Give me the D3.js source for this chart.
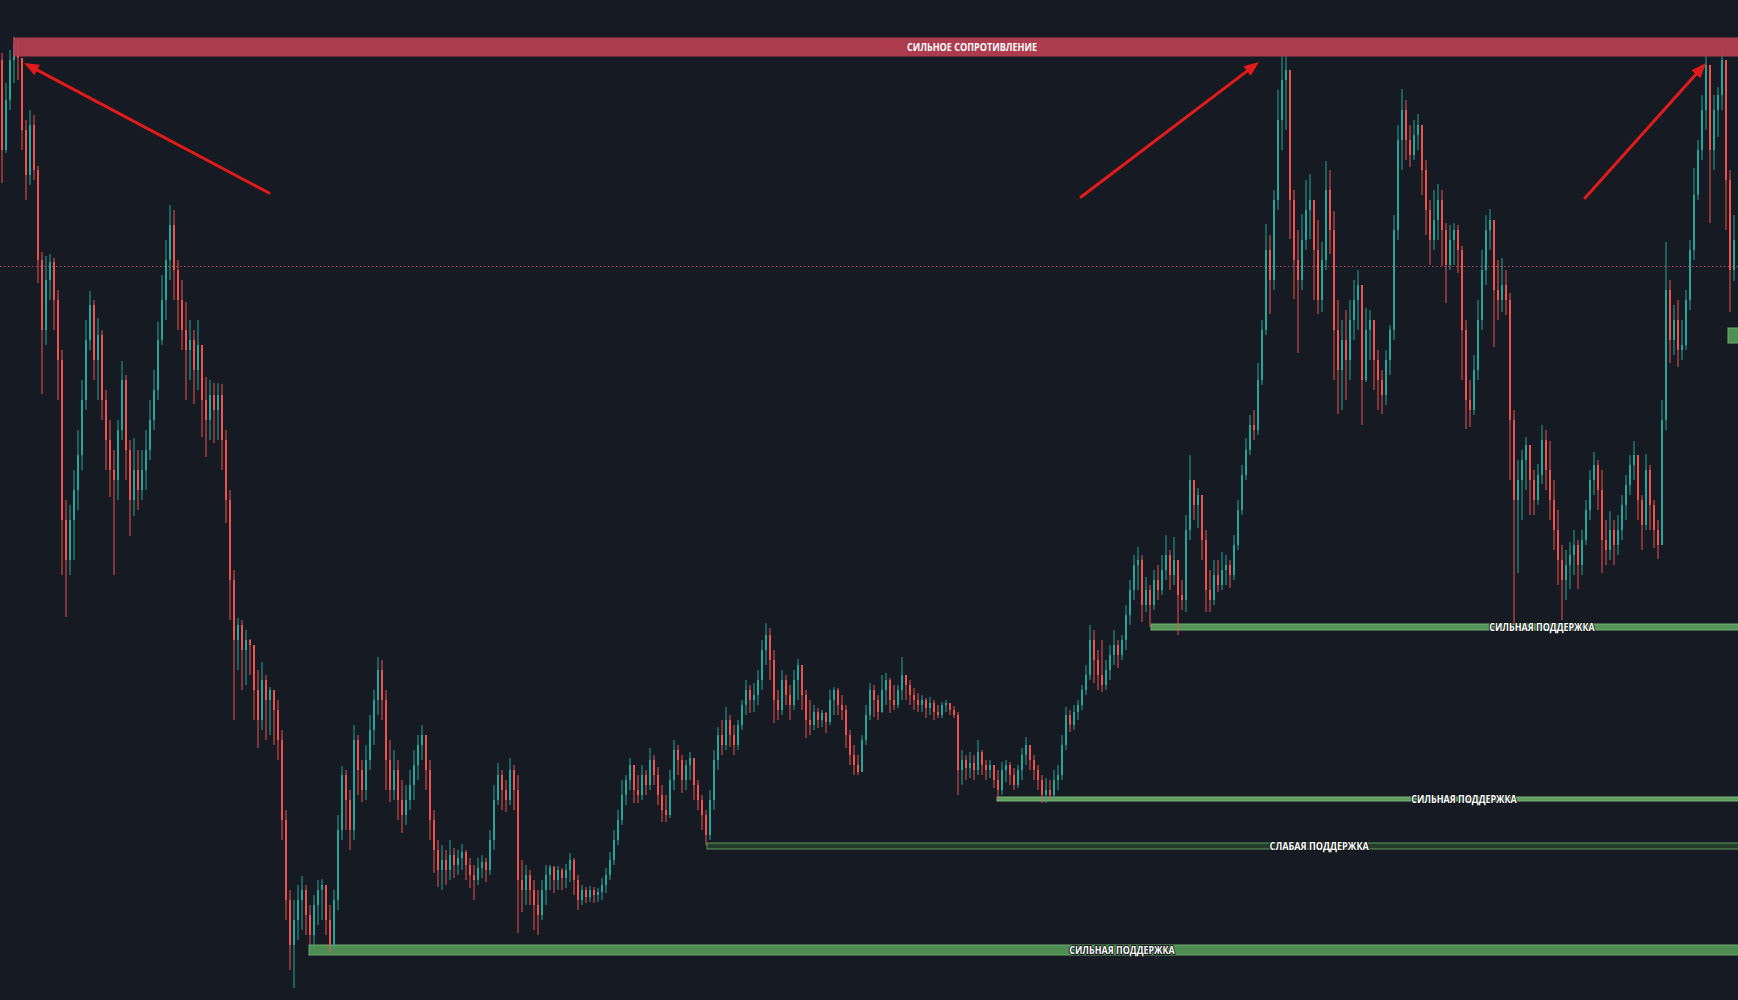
<!DOCTYPE html>
<html><head><meta charset="utf-8">
<script src="https://cdn.jsdelivr.net/npm/d3@7"></script>
<style>html,body{margin:0;padding:0;background:#161a23;overflow:hidden}</style>
</head><body>
<svg id="chart" width="1738" height="1000"></svg>
<script>
// ---- data (price units) ----
const firstOpen = 940;
const closes = [
850,900,940,955,942,870,825,875,830,740,
670,720,738,700,640,480,440,480,510,545,
600,660,695,640,665,600,560,530,520,570,
620,550,500,530,510,530,550,580,610,660,
700,740,775,730,700,670,650,660,630,655,
600,580,605,590,605,560,500,420,360,375,
350,360,355,310,280,320,300,310,290,260,
180,100,55,80,100,110,85,65,95,110,
115,80,55,100,170,225,200,170,260,230,
210,240,270,300,330,300,240,210,230,200,
185,200,215,235,255,265,230,180,150,130,
140,130,145,135,142,148,135,125,120,132,
138,130,160,200,225,210,200,230,210,120,
110,125,110,95,85,110,125,133,120,130,
122,130,140,120,100,110,103,110,105,108,
115,125,140,160,180,205,220,235,210,205,
225,215,240,225,205,190,185,220,250,240,
220,235,242,215,200,185,165,200,240,265,
255,280,265,255,275,295,310,300,305,320,
350,365,340,300,290,320,305,295,320,335,
305,280,275,288,280,287,278,300,310,295,
290,265,245,235,228,260,285,310,300,288,
310,320,300,295,310,325,315,305,300,295,
300,292,297,288,285,295,297,290,285,230,
240,232,237,230,248,235,230,235,220,210,
230,235,225,215,230,245,255,240,230,220,
205,210,205,220,225,255,285,275,288,295,
310,325,360,340,325,315,330,345,355,345,
360,385,410,435,440,395,410,395,420,410,
430,445,425,440,405,400,470,520,495,505,
460,410,400,425,415,430,435,425,455,490,
525,550,575,570,620,670,750,720,800,880,
920,930,800,740,720,760,790,800,750,700,
740,810,770,670,630,660,640,680,700,715,
620,670,680,640,620,605,640,670,770,860,
890,860,845,865,875,830,790,760,780,800,
770,735,760,770,750,670,600,590,630,680,
730,770,780,710,700,715,700,580,500,520,
540,555,520,500,525,560,530,500,470,440,
420,435,445,455,435,460,490,520,535,510,
460,450,470,455,470,495,515,535,545,500,
475,530,495,470,455,580,710,660,680,650,
655,700,750,805,850,890,935,850,890,905,
940,820,730,760];
const highs = [
947,917,950,963,962,937,880,890,885,834,
748,744,746,742,710,650,500,495,530,570,
620,680,709,700,682,670,610,580,550,580,
639,625,560,562,550,550,570,600,630,678,
725,760,795,790,740,720,698,680,670,680,
650,623,620,617,617,616,570,510,430,382,
380,370,361,350,330,338,325,313,310,300,
270,190,110,100,115,124,115,95,105,120,
121,115,95,110,185,234,230,210,275,265,
240,255,285,310,343,340,310,260,250,240,
220,215,230,250,265,275,260,240,190,160,
155,150,160,152,150,156,150,142,135,142,
145,142,170,215,237,230,220,242,235,225,
140,135,130,120,110,120,135,135,134,134,
132,136,147,142,125,115,113,114,113,112,
122,132,148,170,190,220,225,242,233,225,
235,230,252,245,233,215,205,230,260,255,
245,240,248,240,220,205,190,210,250,273,
280,293,285,275,280,300,320,315,317,330,
360,377,372,350,310,330,325,315,330,341,
330,310,300,295,292,290,288,310,313,312,
305,295,270,255,245,265,295,317,315,305,
325,327,322,315,315,343,323,320,312,307,
305,302,303,300,295,298,300,297,294,288,
250,245,248,245,260,250,240,240,235,230,
238,240,238,232,235,252,263,255,245,235,
225,222,220,230,235,265,293,290,295,300,
315,335,375,370,350,360,340,355,370,360,
365,395,420,445,453,445,423,415,430,435,
445,465,450,463,440,420,485,545,515,512,
500,470,430,440,440,448,445,440,465,500,
535,562,585,590,637,680,776,765,810,910,
945,945,910,810,770,786,820,826,800,780,
758,839,830,789,700,680,690,700,720,730,
710,692,690,670,650,630,650,675,785,875,
911,900,875,880,886,870,840,800,810,816,
810,777,775,777,775,754,680,620,645,700,
750,785,791,775,740,742,730,707,590,540,
550,563,550,530,536,575,570,559,520,490,
455,450,458,470,460,470,500,530,548,540,
530,480,489,480,485,505,525,545,559,540,
505,546,535,500,480,600,758,720,695,700,
680,710,760,832,860,905,944,921,905,913,
950,930,830,785];
const lows = [
817,847,890,917,920,850,800,815,820,717,
606,655,700,670,600,425,383,425,440,490,
530,590,650,620,600,580,530,503,425,500,
560,520,464,484,490,500,510,540,570,600,
655,680,720,700,670,650,600,620,596,610,
563,543,560,557,560,530,477,380,280,330,
310,315,325,280,252,270,260,265,255,240,
160,80,30,12,60,70,65,55,52,75,
80,65,47,50,90,160,170,150,160,205,
198,200,230,255,285,280,210,198,200,180,
167,175,190,200,220,240,210,160,127,113,
110,115,120,122,125,130,120,112,100,115,
122,118,125,150,195,190,188,195,190,67,
88,95,95,70,65,80,95,110,107,110,
110,112,118,105,90,95,97,98,97,98,
100,107,120,135,155,175,195,210,197,197,
200,205,210,215,195,178,178,182,210,225,
207,210,220,200,190,170,155,160,190,230,
245,250,253,245,250,270,285,287,288,295,
310,335,320,277,280,285,295,280,290,300,
290,262,265,270,272,273,267,275,285,285,
280,252,235,225,225,230,255,280,283,280,
287,295,287,290,292,300,300,295,290,288,
288,282,285,280,282,282,288,285,282,205,
215,220,222,220,225,225,220,222,212,201,
205,218,215,210,212,220,235,230,220,210,
197,197,200,202,210,220,250,268,270,280,
290,305,320,317,310,308,310,320,335,332,
340,350,375,400,410,378,388,373,390,400,
405,420,410,415,365,390,388,460,480,472,
440,388,388,395,408,410,415,412,420,450,
485,520,545,560,565,615,665,686,710,790,
850,870,761,701,647,710,750,761,700,686,
688,730,746,620,586,590,600,620,660,670,
575,618,640,610,590,586,595,625,660,760,
830,840,833,840,850,805,765,735,750,760,
734,697,730,735,727,620,571,573,585,620,
670,715,750,653,680,688,685,520,376,427,
480,510,485,485,495,516,510,480,450,415,
380,400,411,425,411,425,455,480,505,490,
427,435,440,435,445,460,480,505,520,480,
450,470,470,452,441,455,570,637,645,633,
640,650,690,740,800,840,870,777,830,863,
890,770,688,719];

// horizontal zones: label, price bottom, price top, first candle index, label centre (candle index)
const levelNames   = ["СИЛЬНОЕ СОПРОТИВЛЕНИЕ", "СИЛЬНАЯ ПОДДЕРЖКА", "СЛАБАЯ ПОДДЕРЖКА", "СИЛЬНАЯ ПОДДЕРЖКА", "СИЛЬНАЯ ПОДДЕРЖКА", ""];
const levelKinds   = ["resist", "strong", "weak", "strong3", "strong4", "box"];
const levelLow     = [943.5, 45, 151, 199, 370, 657];
const levelHigh    = [962.5, 55, 157, 203, 376, 672];
const levelStart   = [2.8, 76.75, 176.25, 248.75, 287.25, 431.5];
const levelLabelAt = [242.5, 280, 329.3, 365.5, 385, null];
const dottedLevel = 734;
// arrows: [candle index, price] of tail and tip
const arrowFrom = [[66.75, 807], [269.75, 803], [395.75, 802]];
const arrowTo   = [[5.5, 937], [314.25, 938], [426, 937]];

// ---- drawing ----
const W = 1738, H = 1000;
const N = closes.length;
const svg = d3.select("#chart");
const x = d3.scaleLinear().domain([-0.5, N - 0.5]).range([0, N * 4]);
const y = d3.scaleLinear().domain([0, 1000]).range([H, 0]);

svg.append("rect").attr("width", W).attr("height", H).attr("fill", "#161a23");

const candles = closes.map((c, i) => {
  const o = i === 0 ? firstOpen : closes[i - 1];
  return {i, o, c, h: Math.max(highs[i], o, c), l: Math.min(lows[i], o, c)};
});
const UP = "#26a69a", DOWN = "#ef5350";

// dotted level
svg.append("line").attr("x1", 0).attr("x2", W)
  .attr("y1", Math.round(y(dottedLevel)) + 0.5).attr("y2", Math.round(y(dottedLevel)) + 0.5)
  .attr("stroke", "#c9506a").attr("stroke-width", 1).attr("stroke-dasharray", "1.5,2.5").attr("opacity", 0.85);

// support zones (drawn under candles)
const zoneStyle = {
  resist:  {fill: "#b23e4e", stroke: "#c04a5a"},
  strong:  {fill: "#4e8c52", stroke: "#6aa86b"},
  weak:    {fill: "#243d2a", stroke: "#5d9a60"},
  strong3: {fill: "#5e9e60", stroke: "#76b476"},
  strong4: {fill: "#56955a", stroke: "#74b074"},
  box:     {fill: "#4f9052", stroke: "#6fae70"}
};
const zones = levelNames.map((n, k) => ({n, kind: levelKinds[k], lo: levelLow[k], hi: levelHigh[k], s: levelStart[k], at: levelLabelAt[k]}));

const zg = svg.append("g");
zones.filter(z => z.kind !== "resist").forEach(z => {
  const st = zoneStyle[z.kind];
  zg.append("rect").attr("x", x(z.s)).attr("y", y(z.hi))
    .attr("width", W - x(z.s) + 2).attr("height", y(z.lo) - y(z.hi))
    .attr("fill", st.fill).attr("stroke", st.stroke).attr("stroke-width", 1);
});

// candles
const cg = svg.append("g");
cg.selectAll("line.w").data(candles).join("line")
  .attr("x1", d => x(d.i)).attr("x2", d => x(d.i))
  .attr("y1", d => y(d.h)).attr("y2", d => y(d.l))
  .attr("stroke", d => d.c >= d.o ? UP : DOWN).attr("stroke-width", 1);
cg.selectAll("rect.b").data(candles).join("rect")
  .attr("x", d => x(d.i) - 1).attr("width", 2)
  .attr("y", d => y(Math.max(d.o, d.c)))
  .attr("height", d => Math.max(1, Math.abs(y(d.o) - y(d.c))))
  .attr("fill", d => d.c >= d.o ? UP : DOWN);

// resistance zone (over candles)
zones.filter(z => z.kind === "resist").forEach(z => {
  const st = zoneStyle[z.kind];
  svg.append("rect").attr("x", x(z.s)).attr("y", y(z.hi))
    .attr("width", W - x(z.s) + 2).attr("height", y(z.lo) - y(z.hi))
    .attr("fill", st.fill).attr("opacity", 0.97);
});

// labels
const lg = svg.append("g").attr("font-family", "'Open Sans', 'DejaVu Sans', sans-serif")
  .attr("font-weight", 700).attr("font-size", 10).attr("fill", "#ffffff").attr("text-anchor", "middle");
zones.filter(z => z.n).forEach(z => {
  const t = lg.append("text").attr("x", x(z.at)).attr("y", (y(z.hi) + y(z.lo)) / 2)
    .attr("dy", "0.36em").text(z.n)
    .attr("textLength", z.n.length * 6.2).attr("lengthAdjust", "spacingAndGlyphs");
  if (z.kind !== "resist") {
    t.attr("stroke", "#111418").attr("stroke-width", 2).attr("paint-order", "stroke").attr("stroke-linejoin", "round");
  }
});

// arrows
const ag = svg.append("g");
arrowFrom.forEach((f, k) => {
  const t = arrowTo[k];
  const x1 = x(f[0]), y1 = y(f[1]), x2 = x(t[0]), y2 = y(t[1]);
  const ang = Math.atan2(y2 - y1, x2 - x1);
  const L = 15, Wd = 6;
  const bx = x2 - L * Math.cos(ang), by = y2 - L * Math.sin(ang);
  ag.append("line").attr("x1", x1).attr("y1", y1).attr("x2", bx + 2 * Math.cos(ang)).attr("y2", by + 2 * Math.sin(ang))
    .attr("stroke", "#e11a1a").attr("stroke-width", 3).attr("stroke-linecap", "round");
  const px = -Math.sin(ang), py = Math.cos(ang);
  ag.append("path").attr("d", `M${x2},${y2}L${bx + px * Wd},${by + py * Wd}L${bx - px * Wd},${by - py * Wd}Z`)
    .attr("fill", "#e11a1a");
});
</script>
</body></html>
